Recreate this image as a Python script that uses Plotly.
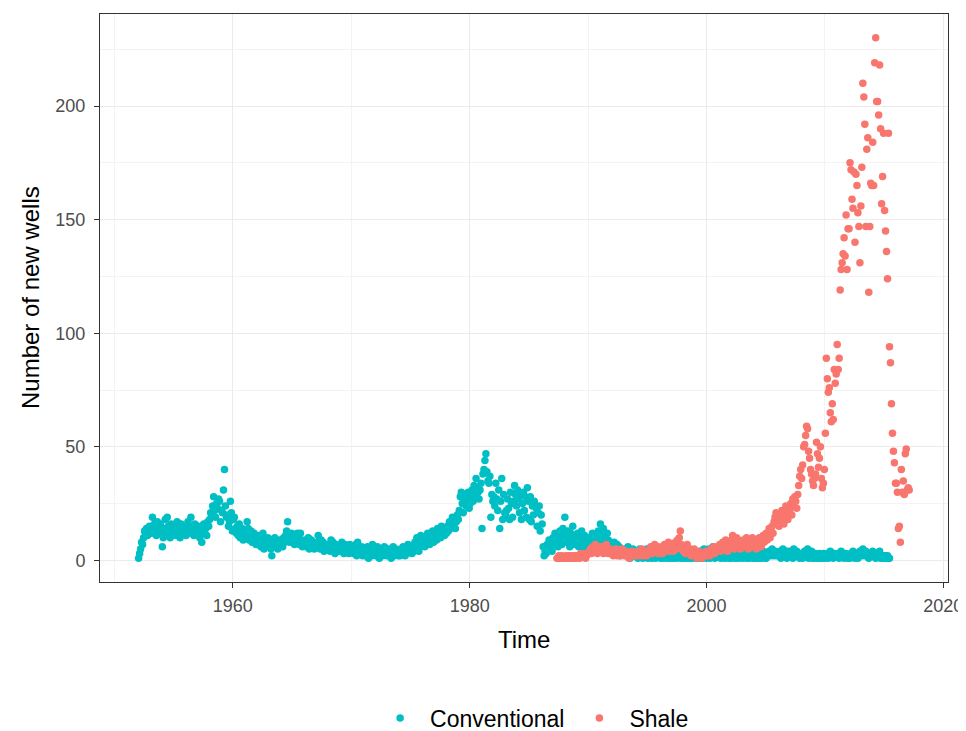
import plotly.graph_objects as go

# ---------------- data (monthly counts) ----------------
conv_start_year = 1952   # first month: Jan 1952
conv_1950s = [
    1, 3, 5, 8, 7, 10, 13, 12, 14, 11, 13, 15,
    14, 12, 19, 15, 16, 13, 11, 17, 14, 12, 16, 13,
    6, 10, 14, 18, 12, 19, 15, 13, 10, 16, 14, 12,
    13, 15, 11, 17, 14, 12, 10, 16, 13, 15, 12, 14,
    11, 14, 17, 13, 12, 19, 15, 14, 11, 16, 13, 12,
    12, 15, 10, 14, 8, 13, 16, 12, 14, 11, 17, 15,
    18, 21, 20, 24, 28, 22, 19, 25, 23, 27, 26, 17,
    22, 21, 31, 40, 24, 19, 20, 15, 17, 26, 21, 13,
]
conv_1960s = [
    18, 19, 14, 12, 15, 11, 16, 10, 13, 14, 9, 12,
    12, 10, 17, 14, 9, 11, 13, 8, 10, 12, 11, 7,
    9, 7, 11, 8, 6, 10, 12, 5, 9, 8, 7, 10,
    8, 6, 5, 2, 9, 7, 10, 6, 8, 5, 7, 9,
    7, 9, 6, 10, 8, 11, 13, 17, 9, 8, 10, 12,
    8, 10, 7, 11, 9, 12, 10, 7, 12, 9, 6, 8,
    7, 9, 6, 8, 10, 5, 7, 9, 6, 8, 5, 7,
    6, 8, 11, 7, 5, 9, 6, 8, 4, 7, 6, 5,
    5, 7, 4, 9, 6, 8, 5, 3, 7, 6, 4, 5,
    4, 6, 8, 5, 3, 7, 4, 6, 5, 3, 7, 5,
]
conv_1970s = [
    4, 6, 3, 5, 7, 2, 8, 5, 3, 4, 6, 2,
    3, 5, 2, 4, 6, 1, 3, 5, 2, 7, 4, 3,
    2, 4, 6, 3, 1, 5, 3, 2, 4, 6, 3, 2,
    3, 5, 2, 4, 1, 3, 6, 2, 4, 5, 3, 2,
    4, 2, 5, 3, 6, 4, 2, 5, 3, 7, 4, 6,
    5, 3, 6, 4, 8, 5, 10, 7, 4, 6, 11, 8,
    7, 9, 6, 10, 8, 12, 9, 7, 11, 10, 13, 8,
    10, 12, 9, 14, 11, 13, 10, 15, 12, 14, 11, 13,
    12, 15, 13, 17, 14, 16, 19, 15, 18, 14, 17, 20,
    18, 22, 28, 30, 25, 21, 26, 29, 24, 27, 30, 23,
]
conv_1980s = [
    25, 28, 31, 26, 33, 29, 36, 32, 30, 27, 31, 34,
    14, 38, 40, 44, 47, 39, 35, 34, 37, 19, 29, 26,
    28, 24, 34, 27, 22, 31, 14, 26, 36, 18, 29, 21,
    20, 22, 27, 23, 18, 30, 25, 19, 26, 33, 29, 24,
    31, 27, 21, 29, 18, 25, 30, 22, 28, 19, 32, 26,
    18, 28, 17, 24, 20, 26, 24, 23, 15, 21, 24, 13,
    20, 16, 6, 2, 4, 3, 7, 5, 9, 6, 8, 4,
    10, 7, 12, 8, 11, 6, 9, 13, 10, 7, 14, 12,
    19, 11, 8, 13, 10, 6, 12, 9, 15, 11, 7, 10,
    8, 12, 6, 10, 9, 13, 7, 5, 11, 8, 6, 9,
]
conv_1990s = [
    7, 10, 5, 9, 12, 6, 8, 4, 10, 7, 13, 9,
    16, 11, 8, 14, 7, 10, 6, 12, 9, 5, 8, 7,
    6, 4, 8, 5, 3, 7, 4, 6, 2, 5, 3, 4,
    3, 5, 2, 4, 6, 3, 1, 4, 2, 5, 3, 2,
    2, 4, 1, 3, 5, 2, 3, 1, 4, 2, 3, 5,
    1, 3, 2, 4, 1, 2, 5, 3, 1, 2, 4, 2,
    3, 1, 2, 4, 1, 3, 2, 5, 1, 2, 3, 1,
    2, 4, 1, 3, 2, 1, 3, 2, 4, 1, 2, 3,
    1, 3, 2, 1, 4, 2, 1, 3, 2, 1, 2, 4,
    2, 1, 3, 2, 1, 4, 2, 1, 3, 5, 2, 1,
]
conv_2000s = [
    3, 2, 5, 1, 4, 2, 6, 3, 1, 2, 4, 3,
    2, 4, 1, 3, 2, 5, 1, 3, 2, 4, 1, 2,
    3, 1, 2, 4, 2, 1, 3, 2, 1, 4, 2, 3,
    1, 2, 4, 2, 1, 3, 2, 1, 3, 2, 4, 1,
    2, 1, 3, 2, 1, 2, 3, 1, 2, 4, 2, 1,
    1, 3, 2, 4, 3, 2, 5, 3, 2, 4, 3, 2,
    3, 2, 4, 1, 3, 5, 2, 4, 3, 1, 4, 2,
    2, 4, 3, 1, 5, 2, 3, 4, 2, 3, 1, 2,
    3, 1, 2, 4, 3, 2, 5, 1, 3, 2, 4, 1,
    2, 1, 3, 2, 1, 2, 3, 1, 2, 1, 3, 2,
]
conv_2010s = [
    1, 2, 3, 1, 2, 4, 2, 3, 1, 2, 3, 2,
    2, 3, 1, 2, 4, 2, 3, 1, 2, 3, 2, 1,
    2, 1, 3, 2, 4, 3, 1, 2, 3, 1, 2, 4,
    3, 2, 5, 3, 2, 4, 2, 3, 1, 2, 3, 2,
    4, 2, 3, 1, 2, 3, 2, 4, 1, 2, 1, 2,
    1, 2, 1, 2, 1, 1,
]

shale_start_year = 1987
shale_start_month = 5    # May 1987
shale_1980s = [
    1, 1, 2, 1, 1, 2, 1, 1,
    1, 2, 1, 1, 2, 1, 2, 1, 1, 2, 1, 2,
    1, 2, 2, 1, 3, 2, 2, 3, 2, 1, 2, 3,
]
shale_1990s = [
    3, 4, 5, 3, 6, 4, 5, 7, 4, 3, 5, 6,
    4, 5, 6, 3, 5, 4, 7, 5, 3, 4, 5, 3,
    3, 2, 4, 3, 5, 2, 3, 4, 2, 3, 5, 3,
    2, 3, 4, 2, 3, 1, 3, 2, 4, 3, 2, 3,
    3, 2, 4, 3, 2, 3, 5, 2, 3, 4, 3, 2,
    4, 3, 5, 6, 4, 3, 5, 7, 4, 5, 6, 3,
    5, 4, 6, 3, 5, 7, 4, 6, 5, 8, 4, 6,
    5, 7, 4, 6, 8, 5, 9, 6, 10, 13, 7, 5,
    4, 6, 3, 5, 7, 4, 3, 5, 2, 4, 3, 5,
    2, 3, 1, 2, 4, 2, 3, 1, 2, 3, 2, 4,
]
shale_2000s = [
    2, 3, 4, 2, 5, 3, 4, 6, 3, 5, 4, 6,
    5, 7, 4, 6, 8, 5, 7, 9, 6, 4, 7, 8,
    6, 9, 11, 7, 5, 8, 10, 6, 9, 7, 5, 8,
    7, 9, 6, 8, 10, 7, 5, 9, 8, 6, 10, 9,
    6, 8, 5, 9, 7, 10, 8, 6, 9, 11, 8, 10,
    12, 9, 11, 14, 10, 13, 15, 12, 17, 19, 21, 16,
    18, 15, 20, 17, 22, 19, 16, 21, 24, 20, 18, 23,
    22, 25, 20, 27, 24, 28, 26, 23, 29, 33, 37, 40,
    36, 42, 50, 51, 55, 59, 58, 48, 45, 40, 38, 35,
    33, 36, 38, 52, 47, 41, 45, 50, 36, 32, 34, 40,
]
shale_2010s = [
    56, 89, 80, 74, 76, 65, 61, 69, 62, 84, 78, 82,
    95, 84, 89, 119, 128, 131, 135, 142, 134, 152, 128, 146,
    146, 175, 172, 159, 155, 171, 140, 170, 165, 153, 147, 131,
    156, 173, 210, 204, 192, 147, 181, 186, 118, 147, 166, 165,
    184, 165, 219, 230, 202, 202, 196, 218, 190, 157, 169, 188,
    154, 145, 136, 124, 188, 94, 87, 69, 56, 48, 43, 34,
    34, 30, 14, 15, 8, 40, 30, 35, 29, 47, 49, 31,
    32, 31,
]

series_names = ["Conventional", "Shale"]
series_colors = ["#00BFC4", "#F8766D"]
x_ticks = [1960, 1980, 2000, 2020]
y_ticks = [0, 50, 100, 150, 200]

# ---------------- build monthly time axis ----------------
def monthly_times(start_year, start_month, n):
    return [start_year + (start_month - 1 + i + 0.5) / 12.0 for i in range(n)]

conv_vals = conv_1950s + conv_1960s + conv_1970s + conv_1980s + conv_1990s + conv_2000s + conv_2010s
shale_vals = shale_1980s + shale_1990s + shale_2000s + shale_2010s
conv_t = monthly_times(conv_start_year, 1, len(conv_vals))
shale_t = monthly_times(shale_start_year, shale_start_month, len(shale_vals))

FONT = "Liberation Sans, Arial, sans-serif"

fig = go.Figure()
fig.add_trace(go.Scatter(x=conv_t, y=conv_vals, mode="markers", name=series_names[0],
                         marker=dict(color=series_colors[0], size=7.5, line=dict(width=0))))
fig.add_trace(go.Scatter(x=shale_t, y=shale_vals, mode="markers", name=series_names[1],
                         marker=dict(color=series_colors[1], size=7.5, line=dict(width=0))))

axis_common = dict(
    showline=True, mirror=True, linecolor="#333333", linewidth=1,
    ticks="outside", ticklen=5, tickcolor="#333333", tickwidth=1,
    showgrid=True, gridcolor="#EBEBEB", gridwidth=1.2,
    zeroline=False, automargin=False,
    tickfont=dict(family=FONT, size=18, color="#4D4D4D"),
)

# The page body has an 8px margin, so the figure is sized 958x723.
fig.update_layout(
    width=958, height=723,
    margin=dict(l=92, r=18, t=6, b=149, autoexpand=False),
    paper_bgcolor="white", plot_bgcolor="white",
    font=dict(family=FONT),
    showlegend=True,
    legend=dict(orientation="h", xref="container", yref="container",
                x=0.378, xanchor="left", y=0.018, yanchor="middle",
                itemwidth=50,
                font=dict(family=FONT, size=23, color="black"), itemsizing="trace",
                bgcolor="rgba(0,0,0,0)"),
    xaxis=dict(range=[1948.78, 2020.4], tickvals=x_ticks, ticklabelstandoff=2,
               minor=dict(dtick=10, tick0=1950, showgrid=True, gridcolor="#F3F3F3", gridwidth=0.6, ticks=""),
               **axis_common),
    yaxis=dict(range=[-9.5, 240.5], tickvals=y_ticks, ticklabelstandoff=5,
               minor=dict(dtick=25, tick0=25, showgrid=True, gridcolor="#F3F3F3", gridwidth=0.6, ticks=""),
               **axis_common),
    annotations=[
        dict(text="Time", xref="paper", yref="paper", x=0.5, y=-0.102, yanchor="middle",
             showarrow=False, font=dict(family=FONT, size=24, color="black")),
        dict(text="Number of new wells", xref="paper", yref="paper", x=-0.0825, y=0.5,
             xanchor="center", yanchor="middle", textangle=-90, showarrow=False,
             font=dict(family=FONT, size=24, color="black")),
    ],
)

fig.write_html("out.html")
